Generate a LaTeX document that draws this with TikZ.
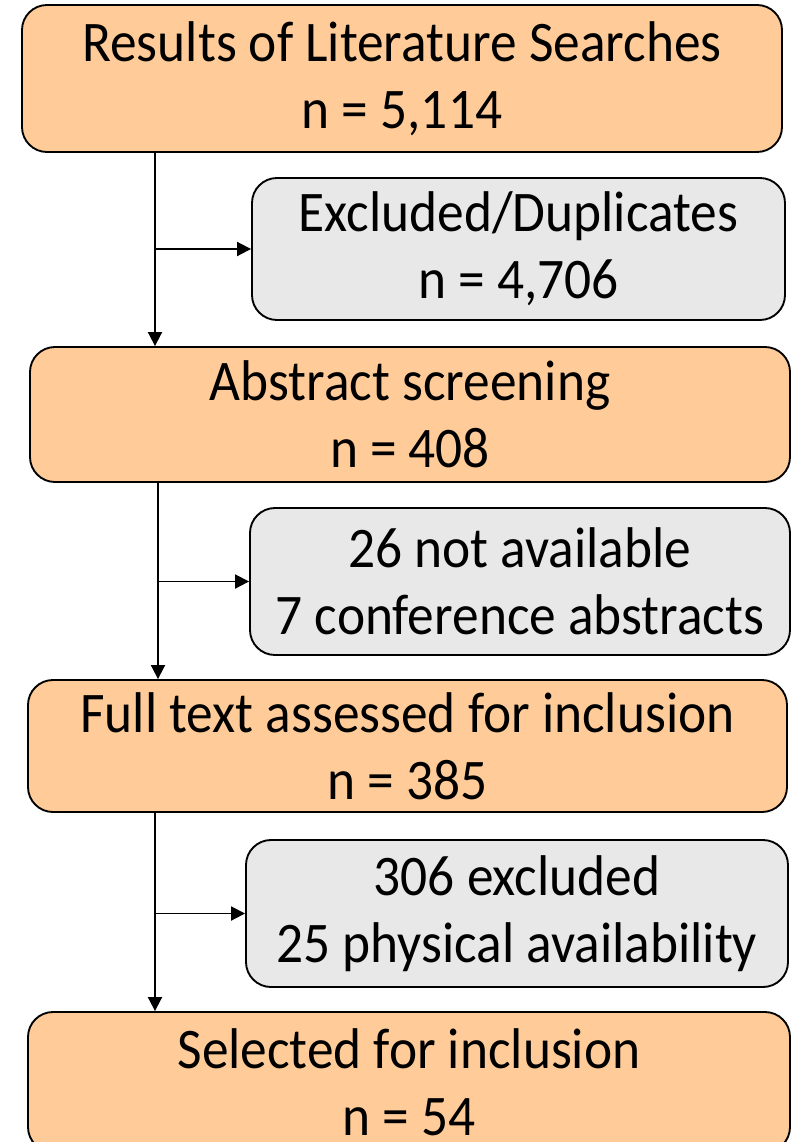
\documentclass[tikz,border=0pt]{standalone}
\usepackage{fontspec}
\setmainfont{Carlito}[FakeStretch=0.93]
\usetikzlibrary{arrows.meta}

\definecolor{stepcol}{HTML}{FFCC99}
\definecolor{outcol}{HTML}{E8E8E8}

\begin{document}
\begin{tikzpicture}[x=0.03cm,y=-0.03cm,
  every node/.style={draw,line width=1.6pt,rounded corners=0.75cm,align=center,inner sep=0pt,
    font=\fontsize{49}{57}\selectfont},
  stepbox/.style={fill=stepcol},
  outbox/.style={fill=outcol},
  link/.style={line width=1.6pt,-{Triangle[length=0.42cm,width=0.42cm]}}]
\useasboundingbox (0,0) rectangle (793,1142);

\node[stepbox,minimum width=760*0.03cm,minimum height=147*0.03cm] (res) at (402,78.5) {Results of Literature Searches\\n = 5,114};
\node[outbox,minimum width=533*0.03cm,minimum height=142*0.03cm] (dup) at (518.5,249) {Excluded/Duplicates\\n = 4,706};
\node[stepbox,minimum width=760*0.03cm,minimum height=135*0.03cm] (abs) at (410,414.5) {Abstract screening\\n = 408};
\node[outbox,minimum width=540*0.03cm,minimum height=147*0.03cm] (nav) at (520,581.5) {26 not available\\7 conference abstracts};
\node[stepbox,minimum width=759*0.03cm,minimum height=132*0.03cm] (full) at (407.5,746) {Full text assessed for inclusion\\n = 385};
\node[outbox,minimum width=542*0.03cm,minimum height=147*0.03cm] (exc) at (517,913.5) {306 excluded\\25 physical availability};
\node[stepbox,minimum width=762*0.03cm,minimum height=140*0.03cm] (sel) at (409,1082) {Selected for inclusion\\n = 54};

\coordinate (b1) at (155,249);
\coordinate (b2) at (158,581.5);
\coordinate (b3) at (155,913.5);

\draw[link] (res.south -| b1) -- (abs.north -| b1);
\draw[link] (b1) -- (dup);
\draw[link] (abs.south -| b2) -- (full.north -| b2);
\draw[link] (b2) -- (nav);
\draw[link] (full.south -| b3) -- (sel.north -| b3);
\draw[link] (b3) -- (exc);
\end{tikzpicture}
\end{document}
